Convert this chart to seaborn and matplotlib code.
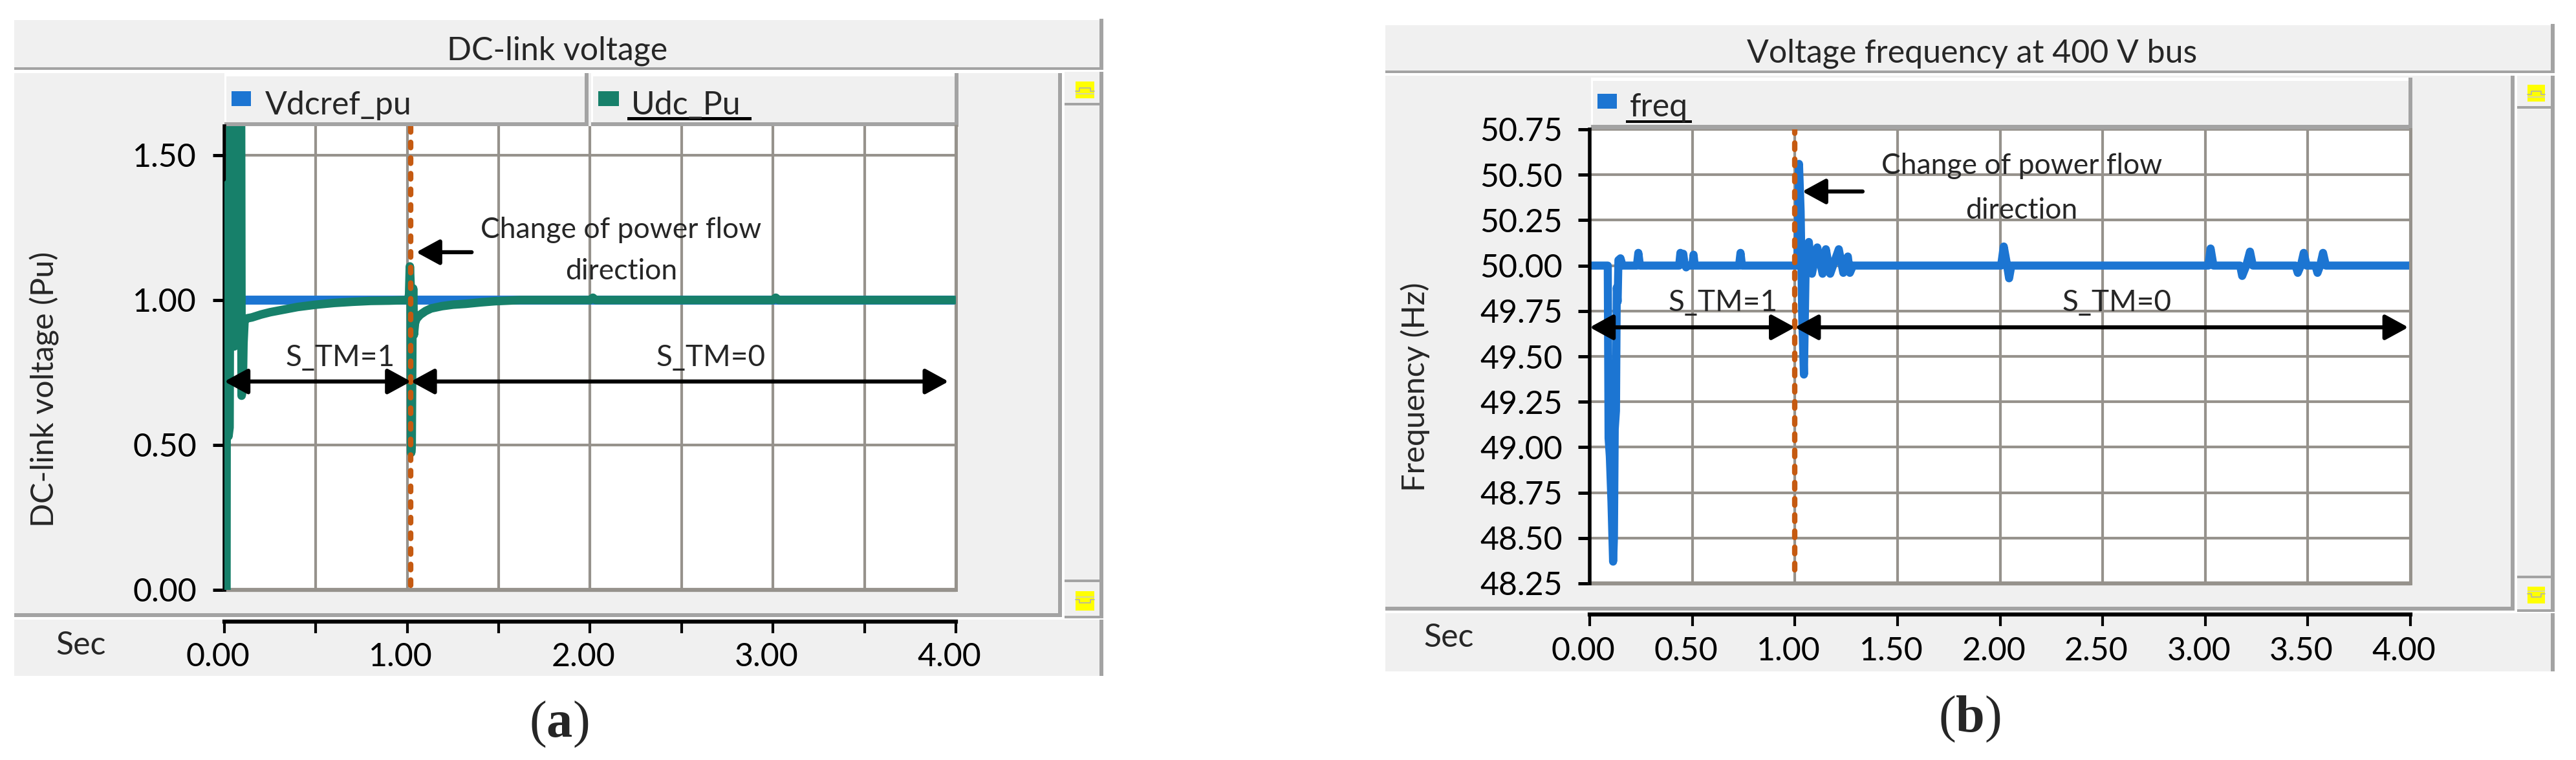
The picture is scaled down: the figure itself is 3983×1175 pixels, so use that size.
import numpy as np
import pandas as pd
import matplotlib
matplotlib.use("Agg")
import matplotlib.pyplot as plt
from matplotlib.patches import Rectangle, FancyArrowPatch
from matplotlib.transforms import ScaledTranslation
import seaborn as sns

# ---------------- data ----------------
udc_t = [0.000, 0.011, 0.013, 0.019, 0.022, 0.028, 0.034, 0.050, 0.054, 0.058, 0.062, 0.090,
         0.094, 0.100, 0.104, 0.110, 0.125,
         0.15, 0.20, 0.25, 0.30, 0.35, 0.40, 0.45, 0.50, 0.60, 0.70, 0.80, 0.90, 1.005,
         1.010, 1.014, 1.018, 1.021, 1.024, 1.028, 1.032, 1.036, 1.042, 1.050, 1.070, 1.100,
         1.130, 1.190, 1.250, 1.320, 1.400, 1.480, 1.550, 1.620,
         2.000, 2.015, 2.030, 3.000, 3.015, 3.030, 4.000]
udc_v = [0.00, 0.00, 1.38, 1.40, 0.53, 0.56, 1.95, 1.95, 0.84, 0.90, 1.95, 1.95,
         0.67, 0.70, 0.85, 0.93, 0.937,
         0.940, 0.950, 0.958, 0.964, 0.970, 0.976, 0.980, 0.984, 0.990, 0.994, 0.997, 0.998, 1.000,
         1.020, 1.116, 1.050, 0.473, 0.500, 0.900, 1.040, 0.880, 0.920, 0.935, 0.949, 0.962,
         0.971, 0.979, 0.984, 0.987, 0.992, 0.996, 0.998, 1.000,
         1.000, 1.008, 1.000, 1.000, 1.008, 1.000, 1.000]

vref_t = [0.0, 4.0]
vref_v = [1.0, 1.0]

freq_t = [0.000, 0.088, 0.092, 0.098, 0.106, 0.114, 0.118, 0.122, 0.128, 0.132, 0.136, 0.140, 0.150, 0.160,
          0.230, 0.237, 0.245,
          0.436, 0.442, 0.450, 0.456, 0.462, 0.470, 0.478, 0.500, 0.506, 0.512,
          0.728, 0.735, 0.742,
          1.012, 1.020, 1.028, 1.036, 1.044, 1.052, 1.068, 1.083, 1.109, 1.135, 1.151, 1.172,
          1.214, 1.236, 1.258, 1.268, 1.283,
          2.005, 2.018, 2.030, 2.044, 2.055,
          3.015, 3.026, 3.040,
          3.170, 3.180, 3.200, 3.218, 3.232,
          3.440, 3.451, 3.466, 3.480, 3.494,
          3.537, 3.547, 3.560, 3.574, 3.588,
          4.000]
freq_v = [50.00, 50.00, 49.05, 48.95, 48.70, 48.37, 48.50, 49.10, 49.20, 49.88, 49.80, 50.03, 50.04, 50.00,
          50.00, 50.07, 50.00,
          50.00, 50.07, 50.02, 50.065, 50.01, 49.99, 50.00, 50.00, 50.06, 50.00,
          50.00, 50.07, 50.00,
          50.00, 50.56, 50.30, 49.70, 49.40, 49.96, 50.13, 49.955, 50.10, 49.955, 50.09, 49.955,
          50.09, 49.96, 50.05, 49.96, 50.00,
          50.00, 50.105, 50.03, 49.93, 50.00,
          50.00, 50.094, 50.00,
          50.00, 49.943, 50.00, 50.077, 50.00,
          50.00, 49.96, 50.00, 50.07, 50.00,
          50.00, 49.96, 50.00, 50.07, 50.00,
          50.00]

x_ticks = [0.0, 0.5, 1.0, 1.5, 2.0, 2.5, 3.0, 3.5, 4.0]
left_xlabels = ["0.00", "", "1.00", "", "2.00", "", "3.00", "", "4.00"]
right_xlabels = ["0.00", "0.50", "1.00", "1.50", "2.00", "2.50", "3.00", "3.50", "4.00"]
left_yticks = [0.0, 0.5, 1.0, 1.5]
left_ylabels = ["0.00", "0.50", "1.00", "1.50"]
right_yticks = [48.25, 48.50, 48.75, 49.00, 49.25, 49.50, 49.75, 50.00, 50.25, 50.50, 50.75]
right_ylabels = ["48.25", "48.50", "48.75", "49.00", "49.25", "49.50", "49.75",
                 "50.00", "50.25", "50.50", "50.75"]
left_event_t = 1.02
right_event_t = 1.00

# ---------------- style ----------------
sns.set_style("white")
plt.rcParams['font.family'] = ['Lato', 'DejaVu Sans']
plt.rcParams['mathtext.fontset'] = 'custom'
plt.rcParams['mathtext.rm'] = 'Liberation Serif'
plt.rcParams['mathtext.bf'] = 'Liberation Serif:bold'

BLUE = '#1c75d2'
GREEN = '#17806a'
ORANGE = '#c55a11'
GRID = '#96928c'
PANEL = '#f0f0f0'
BORDER = '#a3a3a3'

W, H = 3983, 1175
fig = plt.figure(figsize=(W / 100, H / 100), dpi=100)
fig.patch.set_facecolor('white')


def prect(x0, y0, x1, y1, color, z=-5):
    fig.add_artist(Rectangle((x0 / W, 1 - y1 / H), (x1 - x0) / W, (y1 - y0) / H,
                             transform=fig.transFigure, facecolor=color,
                             edgecolor='none', lw=0, zorder=z))


def ftext(x, y, s, **kw):
    fig.text(x / W, 1 - y / H, s, **kw)


def icon(x0, y0, x1, y1, up):
    prect(x0, y0, x1, y1, '#ffff00', z=-4)
    xs = np.array([x0, x0 + 6, x0 + 6, x0 + 11, x1 - 11, x1 - 6, x1 - 6, x1]) / W
    ym = (y0 + y1) / 2
    if up:
        ys = np.array([ym + 2, ym + 2, ym - 3, ym - 3, ym - 3, ym - 3, ym + 2, ym + 2])
    else:
        ys = np.array([ym - 2, ym - 2, ym + 3, ym + 3, ym + 3, ym + 3, ym - 2, ym - 2])
    fig.add_artist(plt.Line2D(xs, 1 - ys / H, transform=fig.transFigure,
                              color='#b0b0b0', lw=1.2, zorder=-3))
    prect(x0, ym - 1 + (6 if up else -6), x1, ym + 1 + (6 if up else -6), '#d8d8a0', z=-3)


def panel(x0, x1, t0, t1, p0, p1, pr, s0, s1, b1, yel_top, yel_bot, seps):
    prect(x0, t0, x1, t1, PANEL)
    prect(x0, t1 - 4, x1, t1, BORDER, z=-4)
    prect(x1 - 5, t0 - 2, x1 + 1, t1, BORDER, z=-4)
    prect(x0, p0, pr, p1, PANEL)
    prect(pr - 6, p0, pr, p1, BORDER, z=-4)
    prect(x0, p1 - 6, pr, p1, BORDER, z=-4)
    prect(pr + 4, s0, x1 + 1, s1, PANEL)
    prect(x1 - 5, s0, x1 + 1, s1, BORDER, z=-4)
    prect(pr + 4, s1 - 4, x1 + 1, s1, BORDER, z=-4)
    prect(pr + 4, seps[0], x1 - 4, seps[0] + 4, BORDER, z=-4)
    prect(pr + 4, seps[1], x1 - 4, seps[1] + 4, BORDER, z=-4)
    icon(*yel_top, True)
    icon(*yel_bot, False)
    prect(x0, s1 + 2, x1 + 1, b1, PANEL)
    prect(x1 - 5, s1 + 2, x1 + 1, b1, BORDER, z=-4)


panel(22, 1705, 31, 108, 113, 954, 1642, 111, 956, 1045,
      (1663, 126, 1692, 152), (1663, 914, 1692, 944), (159, 896))
panel(2142, 3949, 39, 113, 117, 944, 3888, 117, 946, 1038,
      (3908, 131, 3935, 157), (3908, 907, 3935, 933), (164, 890))


def legbox(x0, y0, x1, y1):
    prect(x0, y0, x1, y1, 'white', z=-4)
    prect(x0 + 3, y0 + 5, x1 - 5, y1 - 6, PANEL, z=-3)
    prect(x0, y1 - 7, x1, y1, BORDER, z=-3)
    prect(x1 - 6, y0, x1, y1, BORDER, z=-3)


legbox(347, 113, 910, 196)
legbox(914, 113, 1482, 196)
legbox(2460, 120, 3730, 200)

prect(358, 141, 388, 164, BLUE, z=-2)
prect(925, 141, 957, 164, GREEN, z=-2)
prect(2470, 145, 2500, 168, BLUE, z=-2)
prect(970, 181, 1162, 186, 'black', z=-2)
prect(2514, 186, 2616, 190, 'black', z=-2)
ftext(410, 177, 'Vdcref_pu', ha='left', va='baseline', fontsize=36)
ftext(976, 177, 'Udc_Pu', ha='left', va='baseline', fontsize=36)
ftext(2520, 180, 'freq', ha='left', va='baseline', fontsize=36)

ftext(862, 92, 'DC-link voltage', ha='center', va='baseline', fontsize=36)
ftext(3049, 97, 'Voltage frequency at 400 V bus', ha='center', va='baseline', fontsize=36)

ftext(69, 602, 'DC-link voltage (Pu)', rotation=90, ha='center', va='center', fontsize=35)
ftext(2188, 598, 'Frequency (Hz)', rotation=90, ha='center', va='center', fontsize=35)

ftext(125, 1012, 'Sec', ha='center', va='baseline', fontsize=36)
ftext(2240, 1000, 'Sec', ha='center', va='baseline', fontsize=36)

ftext(864, 1120, r'($\mathbf{a}$)', ha='center', va='center', fontsize=58,
      family='Liberation Serif')
ftext(3045, 1112, r'($\mathbf{b}$)', ha='center', va='center', fontsize=58,
      family='Liberation Serif')


def ax_at(x0, y0, x1, y1):
    return fig.add_axes([x0 / W, 1 - y1 / H, (x1 - x0) / W, (y1 - y0) / H])


def style(ax, xlabels, yticks, ylabels, ylim, outward, ypad, xpad):
    ax.set_facecolor('white')
    ax.set_xlim(0, 4)
    ax.set_ylim(*ylim)
    ax.set_xticks(x_ticks)
    ax.set_xticklabels(xlabels)
    ax.set_yticks(yticks)
    ax.set_yticklabels(ylabels)
    ax.set_xlabel('')
    ax.set_ylabel('')
    ax.grid(True, color=GRID, lw=3.0)
    ax.set_axisbelow(True)
    ax.spines['top'].set_visible(False)
    ax.spines['right'].set_visible(True)
    ax.spines['right'].set_color(GRID)
    ax.spines['right'].set_linewidth(3.6)
    ax.spines['left'].set_visible(True)
    ax.spines['left'].set_color('black')
    ax.spines['left'].set_linewidth(4)
    ax.spines['bottom'].set_visible(True)
    ax.spines['bottom'].set_color('black')
    ax.spines['bottom'].set_linewidth(4.5)
    ax.spines['bottom'].set_position(('outward', outward))
    ax.tick_params(axis='x', direction='out', length=13, width=3, pad=xpad,
                   labelsize=36, colors='black', bottom=True)
    ax.tick_params(axis='y', direction='out', length=13, width=3.6, pad=ypad,
                   labelsize=36, colors='black', left=True)
    ax.axhline(ylim[0], color=GRID, lw=4.5, clip_on=False, zorder=1.5)
    off = ScaledTranslation(-10 / 100, 0, fig.dpi_scale_trans)
    for lab in ax.get_xticklabels():
        lab.set_transform(lab.get_transform() + off)


def arrow(ax, p0, p1, style_):
    ax.add_patch(FancyArrowPatch(p0, p1, arrowstyle=style_, mutation_scale=1,
                                 lw=4.5, color='black', shrinkA=0, shrinkB=0,
                                 clip_on=False, zorder=5))


DBL = '<|-|>,head_length=22,head_width=12'
ONE = '-|>,head_length=22,head_width=12'

# ---- left chart ----
axL = ax_at(347, 195, 1478, 912)
df_ref = pd.DataFrame({'t': vref_t, 'v': vref_v})
df_udc = pd.DataFrame({'t': udc_t, 'v': udc_v})
sns.lineplot(data=df_ref, x='t', y='v', ax=axL, color=BLUE, lw=10, estimator=None,
             sort=False, legend=False, zorder=2, solid_capstyle='butt')
sns.lineplot(data=df_udc, x='t', y='v', ax=axL, color=GREEN, lw=9.5, estimator=None,
             sort=False, legend=False, zorder=3, solid_capstyle='round',
             solid_joinstyle='round')
style(axL, left_xlabels, left_yticks, left_ylabels, (0, 1.6), 35.6, 18, 10)
axL.axvline(left_event_t, ymin=0.01, ymax=1.0, color=ORANGE, lw=6,
            linestyle=(0, (1.0, 1.9)), dash_capstyle='round', zorder=4)
arrow(axL, (0.0, 0.719), (left_event_t, 0.719), DBL)
arrow(axL, (left_event_t, 0.719), (3.96, 0.719), DBL)
arrow(axL, (1.352, 1.165), (1.049, 1.165), ONE)
axL.text(2.17, 1.215, 'Change of power flow', ha='center', va='baseline', fontsize=32, zorder=6)
axL.text(2.17, 1.071, 'direction', ha='center', va='baseline', fontsize=32, zorder=6)
axL.text(0.632, 0.773, 'S_TM=1', ha='center', va='baseline', fontsize=33, zorder=6)
axL.text(2.66, 0.773, 'S_TM=0', ha='center', va='baseline', fontsize=33, zorder=6)

# ---- right chart ----
axR = ax_at(2458, 200, 3727, 902)
df_f = pd.DataFrame({'t': freq_t, 'f': freq_v})
sns.lineplot(data=df_f, x='t', y='f', ax=axR, color=BLUE, lw=9, estimator=None,
             sort=False, legend=False, zorder=2, solid_capstyle='round',
             solid_joinstyle='round')
style(axR, right_xlabels, right_yticks, right_ylabels, (48.25, 50.75), 34.5, 17, 11.5)
axR.axvline(right_event_t, ymin=0.03, ymax=1.0, color=ORANGE, lw=6,
            linestyle=(0, (1.2, 1.8)), dash_capstyle='round', zorder=4)
arrow(axR, (0.0, 49.66), (right_event_t, 49.66), DBL)
arrow(axR, (right_event_t, 49.66), (3.99, 49.66), DBL)
arrow(axR, (1.330, 50.408), (1.036, 50.408), ONE)
axR.text(2.106, 50.504, 'Change of power flow', ha='center', va='baseline', fontsize=32, zorder=6)
axR.text(2.106, 50.258, 'direction', ha='center', va='baseline', fontsize=32, zorder=6)
axR.text(0.65, 49.751, 'S_TM=1', ha='center', va='baseline', fontsize=33, zorder=6)
axR.text(2.57, 49.751, 'S_TM=0', ha='center', va='baseline', fontsize=33, zorder=6)

fig.savefig('out.png', dpi=100)
